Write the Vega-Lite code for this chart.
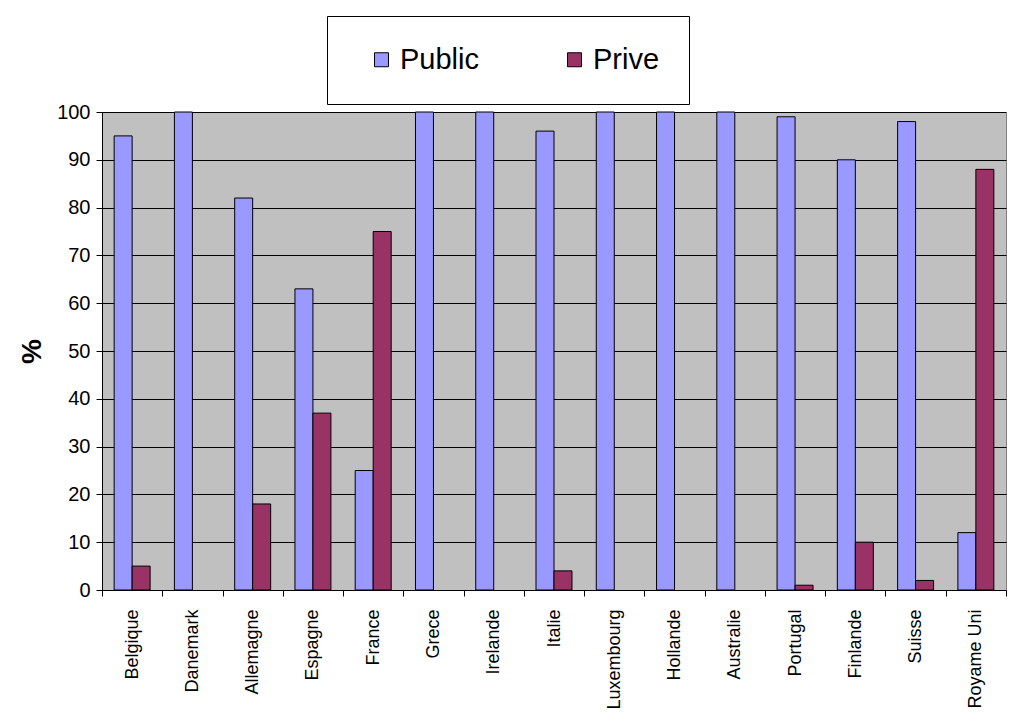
{
  "$schema": "https://vega.github.io/schema/vega-lite/v6.json",
  "width": 904,
  "height": 478,
  "autosize": {"type": "none"},
  "padding": {"left": 102, "top": 112, "right": 24, "bottom": 136},
  "background": "white",
  "data": {
    "values": [
      {"pays": "Belgique", "secteur": "Public", "pct": 95},
      {"pays": "Belgique", "secteur": "Prive", "pct": 5},
      {"pays": "Danemark", "secteur": "Public", "pct": 100},
      {"pays": "Danemark", "secteur": "Prive", "pct": 0},
      {"pays": "Allemagne", "secteur": "Public", "pct": 82},
      {"pays": "Allemagne", "secteur": "Prive", "pct": 18},
      {"pays": "Espagne", "secteur": "Public", "pct": 63},
      {"pays": "Espagne", "secteur": "Prive", "pct": 37},
      {"pays": "France", "secteur": "Public", "pct": 25},
      {"pays": "France", "secteur": "Prive", "pct": 75},
      {"pays": "Grece", "secteur": "Public", "pct": 100},
      {"pays": "Grece", "secteur": "Prive", "pct": 0},
      {"pays": "Irelande", "secteur": "Public", "pct": 100},
      {"pays": "Irelande", "secteur": "Prive", "pct": 0},
      {"pays": "Italie", "secteur": "Public", "pct": 96},
      {"pays": "Italie", "secteur": "Prive", "pct": 4},
      {"pays": "Luxembourg", "secteur": "Public", "pct": 100},
      {"pays": "Luxembourg", "secteur": "Prive", "pct": 0},
      {"pays": "Hollande", "secteur": "Public", "pct": 100},
      {"pays": "Hollande", "secteur": "Prive", "pct": 0},
      {"pays": "Australie", "secteur": "Public", "pct": 100},
      {"pays": "Australie", "secteur": "Prive", "pct": 0},
      {"pays": "Portugal", "secteur": "Public", "pct": 99},
      {"pays": "Portugal", "secteur": "Prive", "pct": 1},
      {"pays": "Finlande", "secteur": "Public", "pct": 90},
      {"pays": "Finlande", "secteur": "Prive", "pct": 10},
      {"pays": "Suisse", "secteur": "Public", "pct": 98},
      {"pays": "Suisse", "secteur": "Prive", "pct": 2},
      {"pays": "Royame Uni", "secteur": "Public", "pct": 12},
      {"pays": "Royame Uni", "secteur": "Prive", "pct": 88}
    ]
  },
  "transform": [{"filter": "datum.pct > 0"}],
  "mark": {"type": "bar", "stroke": "black", "strokeWidth": 1},
  "encoding": {
    "x": {
      "field": "pays",
      "type": "nominal",
      "sort": null,
      "scale": {"paddingInner": 0, "paddingOuter": 0},
      "axis": {
        "title": null,
        "labelAngle": -90,
        "labelAlign": "right",
        "labelBaseline": "middle",
        "labelFont": "Liberation Sans",
        "labelFontSize": 18,
        "labelColor": "black",
        "labelPadding": 13,
        "tickBand": "extent",
        "tickColor": "black",
        "tickSize": 6,
        "domainColor": "black",
        "grid": false
      }
    },
    "xOffset": {
      "field": "secteur",
      "sort": ["Public", "Prive"],
      "scale": {"paddingInner": 0, "paddingOuter": 0.675}
    },
    "y": {
      "field": "pct",
      "type": "quantitative",
      "scale": {"domain": [0, 100]},
      "axis": {
        "title": "%",
        "titleFont": "Liberation Sans",
        "titleFontSize": 28,
        "titleFontWeight": "bold",
        "titleColor": "black",
        "titlePadding": 10,
        "values": [0, 10, 20, 30, 40, 50, 60, 70, 80, 90, 100],
        "labelFont": "Liberation Sans",
        "labelFontSize": 20,
        "labelColor": "black",
        "labelPadding": 6,
        "tickColor": "black",
        "tickSize": 6,
        "domainColor": "black",
        "grid": true,
        "gridColor": "black",
        "gridWidth": 1,
        "gridOpacity": 1
      }
    },
    "color": {
      "field": "secteur",
      "type": "nominal",
      "scale": {"domain": ["Public", "Prive"], "range": ["#9999FF", "#993366"]},
      "legend": {
        "title": null,
        "orient": "none",
        "legendX": 225,
        "legendY": -96,
        "direction": "horizontal",
        "fillColor": "white",
        "strokeColor": "black",
        "padding": 29,
        "symbolType": "square",
        "symbolSize": 196,
        "symbolOffset": 11,
        "symbolStrokeColor": "black",
        "symbolStrokeWidth": 1,
        "symbolOpacity": 1,
        "labelFont": "Liberation Sans",
        "labelFontSize": 29,
        "labelColor": "black",
        "labelOffset": 4,
        "columnPadding": 70
      }
    }
  },
  "config": {
    "view": {"fill": "#C0C0C0", "stroke": "#808080"}
  }
}
